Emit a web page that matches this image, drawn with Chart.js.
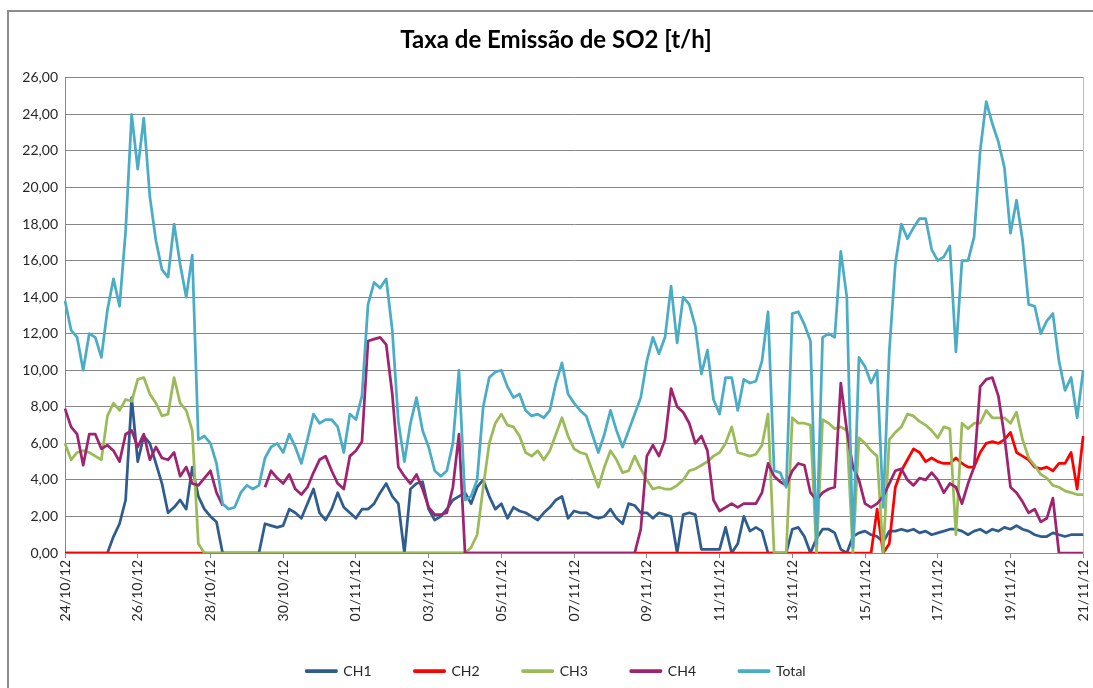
<!DOCTYPE html>
<html>
<head>
<meta charset="utf-8">
<title>Taxa de Emissão de SO2</title>
<script src="https://cdn.jsdelivr.net/npm/chart.js@4.4.0/dist/chart.umd.min.js"></script>
<style>
  html, body { margin: 0; padding: 0; background: #fff; overflow: hidden; }
  #frame { position: absolute; left: 7px; top: 10px; width: 2000px; height: 2000px;
           border-left: 2px solid #8c8c8c; border-top: 2px solid #8c8c8c; }
  #box { position: absolute; left: 10px; top: 12px; width: 1092px; height: 676px; }
</style>
</head>
<body>
<div id="frame"></div>
<div id="box"><canvas id="chart"></canvas></div>
<script>
// one day label per day, 6 readings per day (every 4 h)
const days = ['24/10/12', '25/10/12', '26/10/12', '27/10/12', '28/10/12', '29/10/12', '30/10/12',
  '31/10/12', '01/11/12', '02/11/12', '03/11/12', '04/11/12', '05/11/12', '06/11/12', '07/11/12',
  '08/11/12', '09/11/12', '10/11/12', '11/11/12', '12/11/12', '13/11/12', '14/11/12', '15/11/12',
  '16/11/12', '17/11/12', '18/11/12', '19/11/12', '20/11/12', '21/11/12'];
const pointsPerDay = 6;

const ch1 = [
  0, 0, 0, 0, 0, 0, 0, 0,
  0.9, 1.6, 2.9, 8.5, 5.0, 6.4, 6.0, 4.9,
  3.8, 2.2, 2.5, 2.9, 2.4, 4.7, 3.1, 2.4,
  2.0, 1.7, 0, 0, 0, 0, 0, 0,
  0, 1.6, 1.5, 1.4, 1.5, 2.4, 2.2, 1.9,
  2.7, 3.5, 2.2, 1.8, 2.4, 3.3, 2.5, 2.2,
  1.9, 2.4, 2.4, 2.7, 3.3, 3.8, 3.1, 2.7,
  0, 3.5, 3.8, 3.9, 2.4, 1.8, 2.0, 2.4,
  2.9, 3.1, 3.3, 2.7, 3.6, 4.0, 3.1, 2.4,
  2.7, 1.9, 2.5, 2.3, 2.2, 2.0, 1.8, 2.2,
  2.5, 2.9, 3.1, 1.9, 2.3, 2.2, 2.2, 2.0,
  1.9, 2.0, 2.4, 1.9, 1.6, 2.7, 2.6, 2.2,
  2.2, 1.9, 2.2, 2.1, 2.0, 0, 2.1, 2.2,
  2.1, 0.2, 0.2, 0.2, 0.2, 1.4, 0, 0.5,
  2.0, 1.2, 1.4, 1.2, 0, 0, 0, 0,
  1.3, 1.4, 0.9, 0, 0.8, 1.3, 1.3, 1.1,
  0.2, 0, 0.9, 1.1, 1.2, 1.0, 0.9, 0.6,
  1.2, 1.2, 1.3, 1.2, 1.3, 1.1, 1.2, 1.0,
  1.1, 1.2, 1.3, 1.3, 1.2, 1.0, 1.2, 1.3,
  1.1, 1.3, 1.2, 1.4, 1.3, 1.5, 1.3, 1.2,
  1.0, 0.9, 0.9, 1.1, 1.0, 0.9, 1.0, 1.0,
  1.0
];

const ch2 = [
  0, 0, 0, 0, 0, 0, 0, 0, 0, 0, 0, 0, 0, 0, 0, 0, 0, 0, 0, 0,
  0, 0, 0, 0, 0, 0, 0, 0, 0, 0, 0, 0, 0, 0, 0, 0, 0, 0, 0, 0,
  0, 0, 0, 0, 0, 0, 0, 0, 0, 0, 0, 0, 0, 0, 0, 0, 0, 0, 0, 0,
  0, 0, 0, 0, 0, 0, 0, 0, 0, 0, 0, 0, 0, 0, 0, 0, 0, 0, 0, 0,
  0, 0, 0, 0, 0, 0, 0, 0, 0, 0, 0, 0, 0, 0, 0, 0, 0, 0, 0, 0,
  0, 0, 0, 0, 0, 0, 0, 0, 0, 0, 0, 0, 0, 0, 0, 0, 0, 0, 0, 0,
  0, 0, 0, 0, 0, 0, 0, 0, 0, 0, 0, 0, 0, 0,
  2.4, 0, 0.5, 3.6, 4.5, 5.1, 5.7, 5.5, 5.0, 5.2,
  5.0, 4.9, 4.9, 5.2, 4.9, 4.7, 4.7, 5.5, 6.0, 6.1,
  6.0, 6.2, 6.6, 5.5, 5.3, 5.1, 4.7, 4.6, 4.7, 4.5,
  4.9, 4.9, 5.5, 3.5, 6.4
];

const ch3 = [
  6.0, 5.1, 5.5, 5.6, 5.5, 5.3, 5.1, 7.5,
  8.2, 7.8, 8.4, 8.3, 9.5, 9.6, 8.7, 8.2,
  7.5, 7.6, 9.6, 8.2, 7.8, 6.7, 0.5, 0,
  0, 0, 0, 0, 0, 0, 0, 0, 0, 0, 0, 0, 0, 0, 0, 0, 0, 0, 0, 0,
  0, 0, 0, 0, 0, 0, 0, 0, 0, 0, 0, 0, 0, 0, 0, 0, 0, 0, 0, 0,
  0, 0, 0,
  0.3, 1.0, 3.6, 6.0, 7.1,
  7.6, 7.0, 6.9, 6.4, 5.5, 5.3, 5.6, 5.1,
  5.6, 6.5, 7.4, 6.4, 5.7, 5.5, 5.4, 4.5,
  3.6, 4.7, 5.6, 5.1, 4.4, 4.5, 5.3, 4.6,
  4.0, 3.5, 3.6, 3.5, 3.5, 3.7, 4.0, 4.5,
  4.6, 4.8, 5.0, 5.3, 5.5, 6.0, 6.9, 5.5,
  5.4, 5.3, 5.4, 5.9, 7.6, 0, 0, 0,
  7.4, 7.1, 7.1, 7.0, 0, 7.3, 7.1, 6.8,
  6.9, 6.7, 0, 6.3, 6.0, 5.6, 5.3, 0,
  6.2, 6.6, 6.9, 7.6, 7.5, 7.2, 7.0, 6.7,
  6.3, 6.9, 6.8, 1.0, 7.1, 6.8, 7.1, 7.1,
  7.8, 7.4, 7.4, 7.4, 7.1, 7.7, 6.2, 5.2,
  4.8, 4.3, 4.1, 3.7, 3.6, 3.4, 3.3, 3.2,
  3.2
];

// null = no reading
const ch4 = [
  7.9, 6.9, 6.5, 4.8, 6.5, 6.5, 5.7, 5.9,
  5.6, 5.0, 6.5, 6.7, 5.8, 6.5, 5.1, 5.8,
  5.2, 5.1, 5.5, 4.2, 4.7, 3.8, 3.7, 4.1,
  4.5, 3.3, 2.6, null, null, null, null, null,
  null, 3.6, 4.5, 4.1, 3.8, 4.3, 3.5, 3.2,
  3.6, 4.4, 5.1, 5.3, 4.5, 3.8, 3.5, 5.3,
  5.6, 6.1, 11.6, 11.7, 11.8, 11.4, 8.7, 4.7,
  4.2, 3.8, 4.3, 3.5, 2.5, 2.1, 2.1, 2.2,
  3.6, 6.5, 0, 0, 0, 0, 0, 0,
  0, 0, 0, 0, 0, 0, 0, 0,
  0, 0, 0, 0, 0, 0, 0, 0,
  0, 0, 0, 0, 0, 0, 0, 1.3,
  5.3, 5.9, 5.3, 6.2, 9.0, 8.0, 7.7, 7.1,
  6.0, 6.4, 5.6, 2.9, 2.3, 2.5, 2.7, 2.5,
  2.7, 2.7, 2.7, 3.3, 4.9, 4.2, 3.9, 3.7,
  4.5, 4.9, 4.8, 3.3, 2.9, 3.3, 3.5, 3.6,
  9.3, 6.7, 4.7, 4.0, 2.7, 2.5, 2.7, 3.1,
  3.8, 4.5, 4.6, 4.0, 3.7, 4.1, 4.0, 4.4,
  4.0, 3.3, 3.8, 3.6, 2.7, 3.8, 4.7, 9.1,
  9.5, 9.6, 8.6, 6.4, 3.6, 3.3, 2.8, 2.2,
  2.4, 1.7, 1.9, 3.0, 0, 0, 0, 0,
  0
];

const total = [
  13.8, 12.2, 11.8, 10.0, 12.0, 11.8, 10.7, 13.3,
  15.0, 13.5, 17.6, 24.0, 21.0, 23.8, 19.5, 17.1,
  15.5, 15.1, 18.0, 15.8, 14.0, 16.3, 6.2, 6.4,
  6.0, 4.9, 2.7, 2.4, 2.5, 3.3, 3.7, 3.5,
  3.7, 5.2, 5.8, 6.0, 5.5, 6.5, 5.8, 4.9,
  6.2, 7.6, 7.1, 7.3, 7.3, 6.9, 5.5, 7.6,
  7.3, 8.6, 13.6, 14.8, 14.5, 15.0, 12.2, 7.2,
  5.0, 7.1, 8.5, 6.7, 5.8, 4.5, 4.2, 4.5,
  6.0, 10.0, 2.9, 3.1, 4.0, 8.0, 9.6, 9.9,
  10.0, 9.1, 8.5, 8.7, 7.8, 7.5, 7.6, 7.4,
  7.8, 9.3, 10.4, 8.7, 8.2, 7.8, 7.5, 6.5,
  5.5, 6.5, 7.8, 6.7, 5.8, 6.7, 7.6, 8.5,
  10.5, 11.8, 10.9, 11.8, 14.6, 11.5, 14.0, 13.6,
  12.4, 9.8, 11.1, 8.4, 7.6, 9.6, 9.6, 7.8,
  9.5, 9.3, 9.4, 10.5, 13.2, 4.5, 4.4, 3.6,
  13.1, 13.2, 12.5, 11.6, 0.5, 11.8, 12.0, 11.8,
  16.5, 14.0, 0.3, 10.7, 10.2, 9.3, 10.0, 2.5,
  11.0, 15.8, 18.0, 17.2, 17.8, 18.3, 18.3, 16.6,
  16.0, 16.2, 16.8, 11.0, 16.0, 16.0, 17.3, 22.0,
  24.7, 23.5, 22.5, 21.1, 17.5, 19.3, 17.1, 13.6,
  13.5, 12.0, 12.7, 13.1, 10.5, 8.9, 9.6, 7.4,
  10.0
];

const labels = [];
for (let i = 0; i < ch1.length; i++) {
  const h = (i % pointsPerDay) * 4;
  labels.push(days[Math.floor(i / pointsPerDay)] + ' ' + String(h).padStart(2, '0') + 'h');
}

const gridColor = '#868686';
const textColor = '#262626';
const font = { family: 'Lato', size: 14 };

function line(label, data, color, order) {
  return {
    label: label,
    data: data,
    borderColor: color,
    backgroundColor: color,
    borderWidth: 2.75,
    pointRadius: 0,
    tension: 0,
    borderJoinStyle: 'round',
    order: order
  };
}

new Chart(document.getElementById('chart'), {
  type: 'line',
  data: {
    labels: labels,
    datasets: [
      line('CH1', ch1, '#2e5c8f', 5),
      line('CH2', ch2, '#ff0000', 4),
      line('CH3', ch3, '#9bbb59', 3),
      line('CH4', ch4, '#a0236f', 2),
      line('Total', total, '#4bacc6', 1)
    ]
  },
  options: {
    responsive: true,
    maintainAspectRatio: false,
    animation: false,
    layout: { padding: 0 },
    plugins: {
      title: {
        display: true,
        text: 'Taxa de Emissão de SO2 [t/h]',
        color: '#000',
        font: { family: 'Lato', size: 24, weight: 'bold' },
        padding: { top: 14, bottom: 23 }
      },
      legend: {
        position: 'bottom',
        labels: {
          boxWidth: 30,
          boxHeight: 1,
          padding: 43,
          color: textColor,
          font: font,
          sort: (a, b) => a.datasetIndex - b.datasetIndex
        }
      },
      tooltip: { enabled: false }
    },
    scales: {
      x: {
        grid: { drawOnChartArea: false, drawTicks: true, tickLength: 5, color: gridColor },
        border: { color: gridColor },
        ticks: {
          autoSkip: false,
          maxRotation: 90,
          minRotation: 90,
          padding: 2,
          color: textColor,
          font: font,
          callback: (v, i) => (i % (pointsPerDay * 2) === 0 ? days[i / pointsPerDay] : null)
        },
        afterFit: (s) => { s.height = 68; }
      },
      y: {
        min: 0,
        max: 26,
        grid: { color: gridColor, drawTicks: false },
        border: { color: gridColor },
        ticks: {
          stepSize: 2,
          padding: 7,
          color: textColor,
          font: font,
          callback: (v) => v.toFixed(2).replace('.', ',')
        },
        afterFit: (s) => { s.width = 55; }
      },
      // empty right-hand axis: gives the plot its right edge line
      yRight: {
        position: 'right',
        display: true,
        min: 0,
        max: 26,
        grid: { drawOnChartArea: false, drawTicks: false },
        border: { color: '#bfbfbf' },
        ticks: { display: false },
        afterFit: (s) => { s.width = 15; }
      }
    }
  }
});
</script>
</body>
</html>
